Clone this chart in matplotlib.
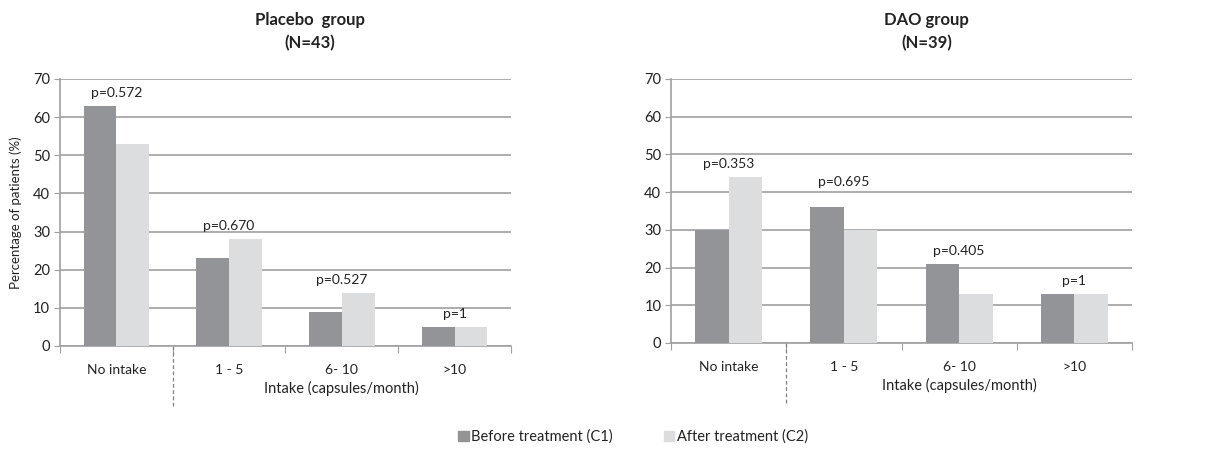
import matplotlib.pyplot as plt
import numpy as np

plt.rcParams['font.family'] = ['Lato', 'DejaVu Sans']

categories = ['No intake', '1 - 5', '6- 10', '>10']

placebo_before = [63, 23, 9, 5]
placebo_after = [53, 28, 14, 5]
placebo_p = ['p=0.572', 'p=0.670', 'p=0.527', 'p=1']

dao_before = [30, 36, 21, 13]
dao_after = [44, 30, 13, 13]
dao_p = ['p=0.353', 'p=0.695', 'p=0.405', 'p=1']

DARK = '#929497'
LIGHT = '#dcdddf'
GRID = '#a0a0a0'
TXT = '#222222'


def draw_panel(ax, before, after, pvals, title, ylabel=None, p_extra=None):
    x = np.arange(len(categories))
    w = 0.29
    ax.bar(x - w/2, before, w, color=DARK, zorder=3)
    ax.bar(x + w/2, after, w, color=LIGHT, zorder=3)

    ax.set_ylim(0, 70)
    ax.set_xlim(-0.5, 3.5)
    ax.set_yticks(range(0, 71, 10))
    ax.yaxis.grid(True, color=GRID, linewidth=1.2, zorder=0)
    ax.tick_params(axis='y', labelsize=10.5, colors=TXT, length=4, color=GRID, pad=3)

    # category ticks at boundaries
    ax.set_xticks(np.arange(-0.5, 4, 1))
    ax.set_xticklabels([])
    ax.tick_params(axis='x', length=5, color=GRID)
    ax.set_xticks(x, minor=True)
    ax.set_xticklabels(categories, minor=True, fontsize=10, color=TXT)
    ax.tick_params(axis='x', which='minor', length=0, pad=13)

    for s in ['top', 'right']:
        ax.spines[s].set_visible(False)
    ax.spines['left'].set_color(GRID)
    ax.spines['bottom'].set_color(GRID)
    ax.spines['left'].set_linewidth(1.2)
    ax.spines['bottom'].set_linewidth(1.2)

    # dashed separator after "No intake"
    ax.plot([0.5, 0.5], [0, -0.23], transform=ax.get_xaxis_transform(),
            color='#808080', linestyle=(0, (3, 2)), linewidth=0.9, clip_on=False)

    offsets = p_extra or [0] * len(pvals)
    for i, p in enumerate(pvals):
        top = max(before[i], after[i])
        ax.annotate(p, (i, top), xytext=(0, 5 + offsets[i]), textcoords='offset points',
                    ha='center', va='bottom', fontsize=10, color=TXT)

    ax.text(2.0, -0.16, 'Intake (capsules/month)', transform=ax.get_xaxis_transform(),
            ha='center', va='center', fontsize=10.5, color=TXT)
    ax.set_title(title, fontsize=12, fontweight='bold', color=TXT, pad=22,
                 linespacing=1.5, x=0.555)
    if ylabel:
        ax.set_ylabel(ylabel, fontsize=9.5, color=TXT, labelpad=8)


fig = plt.figure(figsize=(12.11, 4.49), dpi=100)
ax1 = fig.add_axes([0.0495, 0.2294, 0.3724, 0.5947])
ax2 = fig.add_axes([0.5541, 0.2361, 0.3807, 0.588])

draw_panel(ax1, placebo_before, placebo_after, placebo_p,
           'Placebo  group\n(N=43)', ylabel='Percentage of patients (%)')
draw_panel(ax2, dao_before, dao_after, dao_p, 'DAO group\n(N=39)',
           p_extra=[0, 9, 0, 0])

h1 = plt.Rectangle((0, 0), 1, 1, color=DARK)
h2 = plt.Rectangle((0, 0), 1, 1, color=LIGHT)
fig.legend([h1, h2], ['Before treatment (C1)', 'After treatment (C2)'],
           loc='center', bbox_to_anchor=(0.523, 0.027), ncol=2, frameon=False,
           fontsize=10.5, handlelength=0.7, handleheight=0.7, handletextpad=0.2,
           columnspacing=3.5, labelcolor=TXT)

fig.savefig('out.png', dpi=100)
